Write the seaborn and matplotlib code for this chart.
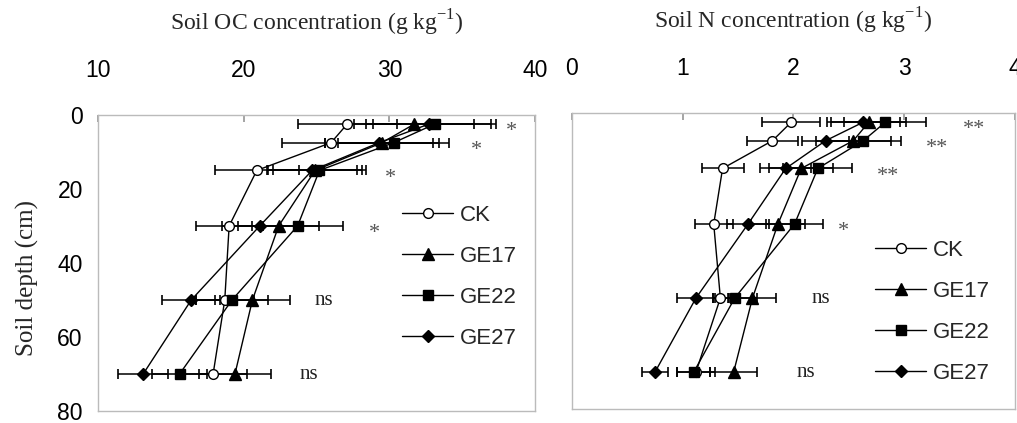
import matplotlib
matplotlib.use("Agg")
import matplotlib.pyplot as plt
import seaborn as sns

# soil depth of each sampled layer (cm)
depth = [2.5, 7.5, 15, 30, 50, 70]
treatments = ["CK", "GE17", "GE22", "GE27"]

# soil organic carbon (g/kg) and error
oc_ck = [27.1, 26.0, 20.9, 19.0, 18.7, 17.9]
oc_ck_err = [3.4, 3.4, 2.9, 2.3, 2.0, 2.3]
oc_ge17 = [31.7, 29.5, 24.9, 22.4, 20.6, 19.4]
oc_ge17_err = [4.1, 3.9, 3.2, 2.8, 2.6, 2.5]
oc_ge22 = [33.1, 30.3, 25.2, 23.7, 19.2, 15.6]
oc_ge22_err = [4.2, 3.8, 3.2, 3.1, 2.5, 1.9]
oc_ge27 = [32.7, 29.3, 24.7, 21.1, 16.4, 13.1]
oc_ge27_err = [4.3, 3.7, 3.1, 2.6, 2.0, 1.7]

# soil nitrogen (g/kg) and error
n_ck = [1.98, 1.81, 1.36, 1.28, 1.34, 1.12]
n_ck_err = [0.26, 0.23, 0.19, 0.17, 0.07, 0.17]
n_ge17 = [2.68, 2.54, 2.07, 1.86, 1.63, 1.46]
n_ge17_err = [0.34, 0.34, 0.29, 0.24, 0.21, 0.21]
n_ge22 = [2.83, 2.63, 2.22, 2.01, 1.47, 1.10]
n_ge22_err = [0.37, 0.34, 0.31, 0.26, 0.20, 0.15]
n_ge27 = [2.63, 2.29, 1.93, 1.59, 1.12, 0.75]
n_ge27_err = [0.33, 0.21, 0.23, 0.19, 0.17, 0.12]

# significance labels per layer
oc_sig = ["*", "*", "*", "*", "ns", "ns"]
oc_sig_x = [38.4, 36.0, 30.1, 29.0, 25.5, 24.5]
n_sig = ["**", "**", "**", "*", "ns", "ns"]
n_sig_x = [3.63, 3.30, 2.85, 2.45, 2.25, 2.11]

oc_ticks = [10, 20, 30, 40]
n_ticks = [0, 1, 2, 3, 4]
depth_ticks = [0, 20, 40, 60, 80]

sns.set_theme(style="white")
plt.rcParams["font.family"] = ["Liberation Sans", "DejaVu Sans"]
plt.rcParams["mathtext.fontset"] = "custom"
plt.rcParams["mathtext.rm"] = "Liberation Serif"

markers = {"CK": ("o", "white", 7), "GE17": ("^", "black", 8.5),
           "GE22": ("s", "black", 7), "GE27": ("D", "black", 6)}

fig = plt.figure(figsize=(10.17, 4.23), dpi=100)
ax1 = fig.add_axes([0.0964, 0.0284, 0.4297, 0.70])
ax2 = fig.add_axes([0.5624, 0.033, 0.4356, 0.70])


def draw_panel(ax, series, errs, sig, sig_x, xlim, xticks, title):
    for name, vals, err in zip(treatments, series, errs):
        m, fc, ms = markers[name]
        ax.errorbar(vals, depth, xerr=err, fmt="none", ecolor="black",
                    elinewidth=1.1, capsize=3.8, capthick=1.2, zorder=2)
        sns.lineplot(x=vals, y=depth, ax=ax, sort=False, estimator=None,
                     color="black", lw=1.0, marker=m, markersize=ms,
                     markerfacecolor=fc, markeredgecolor="black",
                     markeredgewidth=1.0, label=name, zorder=3)
    for s, x, d in zip(sig, sig_x, depth):
        if s == "ns":
            ax.text(x, d + 1.3, s, ha="center", va="baseline", fontsize=15,
                    family="Liberation Serif", color="#222222")
        else:
            ax.text(x, d + 3.3, s, ha="center", va="baseline", fontsize=16,
                    family="Liberation Serif", color="#555555")

    ax.set_xlim(xlim)
    ax.set_ylim(80, 0)
    ax.set_xticks(xticks)
    ax.set_yticks(depth_ticks)
    ax.xaxis.tick_top()
    ax.xaxis.set_label_position("top")
    ax.set_xlabel(title, fontsize=17, family="Liberation Serif", labelpad=20)
    ax.tick_params(axis="both", direction="in", length=5, color="#999999",
                   labelsize=16.5, labelcolor="black")
    ax.tick_params(axis="x", pad=24)
    ax.tick_params(axis="y", pad=11)
    for sp in ax.spines.values():
        sp.set_color("#bbbbbb")
        sp.set_linewidth(1.0)


draw_panel(ax1, [oc_ck, oc_ge17, oc_ge22, oc_ge27],
           [oc_ck_err, oc_ge17_err, oc_ge22_err, oc_ge27_err],
           oc_sig, oc_sig_x, (10, 40), oc_ticks,
           r"Soil OC concentration (g kg$^{\mathregular{-1}}$)")
draw_panel(ax2, [n_ck, n_ge17, n_ge22, n_ge27],
           [n_ck_err, n_ge17_err, n_ge22_err, n_ge27_err],
           n_sig, n_sig_x, (0, 4), n_ticks,
           r"Soil N concentration (g kg$^{\mathregular{-1}}$)")

ax1.set_ylabel("Soil depth (cm)", fontsize=18, family="Liberation Serif")
ax1.yaxis.set_label_coords(-0.135, 0.45)
ax2.set_ylabel("")
ax2.tick_params(axis="y", labelleft=False)

leg_kw = dict(frameon=False, fontsize=16, handlelength=2.3, handletextpad=0.3,
              labelspacing=0.9, borderpad=0, borderaxespad=0, loc="upper left")
ax1.legend(bbox_to_anchor=(0.696, 0.695), **leg_kw)
ax2.legend(bbox_to_anchor=(0.684, 0.572), **leg_kw)

fig.savefig("out.png", dpi=100)
